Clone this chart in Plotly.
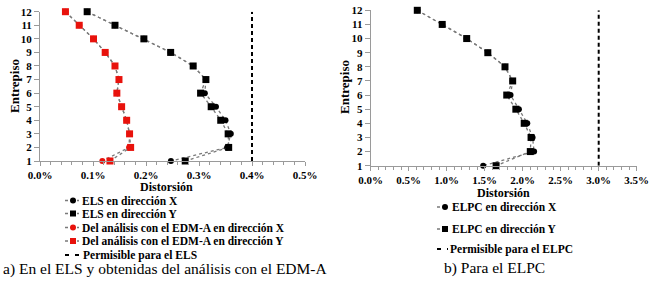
import plotly.graph_objects as go

W, H = 650, 281

# ---------------- data ----------------
floors = [12, 11, 10, 9, 8, 7, 6, 5, 4, 3, 2, 1]

els_x = [0.089, 0.1415, 0.196, 0.2465, 0.289, 0.313, 0.311, 0.332, 0.350, 0.360, 0.353, 0.247]
els_y = [0.089, 0.1415, 0.196, 0.2465, 0.289, 0.313, 0.303, 0.323, 0.341, 0.355, 0.356, 0.274]
edm_x = [0.048, 0.074, 0.101, 0.123, 0.1415, 0.149, 0.145, 0.154, 0.1635, 0.169, 0.168, 0.1176]
edm_y = [0.048, 0.074, 0.101, 0.123, 0.1415, 0.149, 0.145, 0.154, 0.1635, 0.169, 0.171, 0.132]
lim_els = 0.4

elpc_x = [0.613, 0.941, 1.263, 1.541, 1.767, 1.868, 1.84, 1.95, 2.06, 2.13, 2.15, 1.48]
elpc_y = [0.613, 0.941, 1.263, 1.541, 1.767, 1.868, 1.79, 1.91, 2.02, 2.11, 2.10, 1.65]
lim_elpc = 3.0

legend_a = ["ELS en dirección X", "ELS en dirección Y",
            "Del análisis con el EDM-A en dirección X",
            "Del análisis con el EDM-A en dirección Y",
            "Permisible para el ELS"]
legend_b = ["ELPC en dirección X", "ELPC en dirección Y", "Permisible para el ELPC"]
caption_a = "a) En el ELS y obtenidas del análisis con el EDM-A"
caption_b = "b) Para el ELPC"
x_title = "Distorsión"
y_title = "Entrepiso"

# ---------------- style ----------------
SERIF = "'Liberation Serif', 'Times New Roman', serif"
BOLD = dict(family=SERIF, size=11, color="black", weight="bold")
LEG = dict(BOLD, size=11.5)
BLACK = "#000000"
RED = "#e8120c"
DOT = dict(color="#7a7a7a", width=1.3, dash="dot")
AX = "#9a9a9a"


def px(x, y):
    return x / W, 1 - y / H


fig = go.Figure()


def series(xs, color, symbol, size, xa, ya):
    fig.add_trace(go.Scatter(
        x=xs, y=floors, mode="lines+markers", xaxis=xa, yaxis=ya,
        line=DOT, marker=dict(color=color, symbol=symbol, size=size, line=dict(width=0)),
        cliponaxis=False, showlegend=False, hoverinfo="skip"))


def limit(v, xa, ya):
    fig.add_trace(go.Scatter(
        x=[v, v], y=[min(floors), max(floors)], mode="lines", xaxis=xa, yaxis=ya,
        line=dict(color="black", width=2, dash="4px,3px"),
        cliponaxis=False, showlegend=False, hoverinfo="skip"))


# left panel
series(els_x, BLACK, "circle", 6, "x", "y")
series(els_y, BLACK, "square", 7, "x", "y")
series(edm_x, RED, "circle", 6, "x", "y")
series(edm_y, RED, "square", 7, "x", "y")
limit(lim_els, "x", "y")
# right panel
series(elpc_x, BLACK, "circle", 6, "x2", "y2")
series(elpc_y, BLACK, "square", 7, "x2", "y2")
limit(lim_elpc, "x2", "y2")

# ---------------- legend keys (overlay axis in pixel units) ----------------
def key(x0, x1, xm, y, color=None, symbol=None, dashed=False):
    if dashed:
        fig.add_trace(go.Scatter(x=[x0, x1], y=[y, y], mode="lines", xaxis="x3", yaxis="y3",
                                 line=dict(color="black", width=2, dash="4px,6px"),
                                 cliponaxis=False, showlegend=False, hoverinfo="skip"))
    else:
        fig.add_trace(go.Scatter(x=[x0, x1], y=[y, y], mode="lines", xaxis="x3", yaxis="y3",
                                 line=DOT, cliponaxis=False, showlegend=False, hoverinfo="skip"))
        fig.add_trace(go.Scatter(x=[xm], y=[y], mode="markers", xaxis="x3", yaxis="y3",
                                 marker=dict(color=color, symbol=symbol, size=6, line=dict(width=0)),
                                 cliponaxis=False, showlegend=False, hoverinfo="skip"))


rows_a = [200.5, 213.5, 227.5, 241, 255]
keys_a = [(BLACK, "circle"), (BLACK, "square"), (RED, "circle"), (RED, "square"), None]
annotations = []
for lbl, ry, k in zip(legend_a, rows_a, keys_a):
    if k is None:
        key(65, 80, 0, ry, dashed=True)
        tx = 81
    else:
        key(65, 79, 73, ry, k[0], k[1])
        tx = 79.5
    xx, yy = px(tx, ry)
    annotations.append(dict(x=xx, y=yy, xref="paper", yref="paper", text=lbl, showarrow=False,
                            xanchor="left", yanchor="middle", font=LEG))

rows_b = [207, 229, 249]
keys_b = [(BLACK, "circle"), (BLACK, "square"), None]
for lbl, ry, k in zip(legend_b, rows_b, keys_b):
    if k is None:
        key(437, 448, 0, ry, dashed=True)
        tx = 448
    else:
        key(437, 449, 445, ry, k[0], k[1])
        tx = 450
    xx, yy = px(tx, ry)
    annotations.append(dict(x=xx, y=yy, xref="paper", yref="paper", text=lbl, showarrow=False,
                            xanchor="left", yanchor="middle", font=LEG))

# titles & captions
for txt, (cx, cy), ang, fnt in [
    (x_title, (166, 187), 0, dict(BOLD, size=12)),
    (x_title, (503, 193), 0, dict(BOLD, size=12)),
    (y_title, (14, 86), -90, dict(BOLD, size=13)),
    (y_title, (344, 87), -90, dict(BOLD, size=13)),
    (caption_a, (165, 269), 0, dict(family=SERIF, size=15.5, color="black")),
    (caption_b, (494, 268), 0, dict(family=SERIF, size=15.5, color="black")),
]:
    xx, yy = px(cx, cy)
    annotations.append(dict(x=xx, y=yy, xref="paper", yref="paper", text=txt, showarrow=False,
                            xanchor="center", yanchor="middle", textangle=ang, font=fnt))


def xaxis(dom, rng, dtick, minor, anchor):
    return dict(domain=dom, range=rng, dtick=dtick, tick0=0, ticksuffix="%", tickformat=".1f",
                showline=True, linecolor=AX, linewidth=1, ticks="outside", ticklen=4,
                tickcolor=AX, showgrid=False, zeroline=False, tickfont=BOLD,
                minor=dict(dtick=minor, ticks="outside", ticklen=3, tickcolor=AX, showgrid=False),
                anchor=anchor, automargin=False, fixedrange=True)


def yaxis(dom, anchor):
    return dict(domain=dom, range=[1, 12], dtick=1, tick0=0, showline=True, linecolor=AX,
                linewidth=1, ticks="outside", ticklen=5, tickcolor=AX, showgrid=False,
                zeroline=False, tickfont=BOLD, anchor=anchor, automargin=False, fixedrange=True)


fig.update_layout(
    template="none",
    width=W, height=H, autosize=False,
    margin=dict(l=0, r=0, t=0, b=0, pad=0),
    paper_bgcolor="white", plot_bgcolor="rgba(0,0,0,0)",
    showlegend=False,
    xaxis=xaxis([40 / W, 305 / W], [0, 0.5], 0.1, 0.02, "y"),
    yaxis=yaxis([1 - 161 / H, 1 - 11.7 / H], "x"),
    xaxis2=xaxis([370.7 / W, 636.7 / W], [0, 3.5], 0.5, 0.1, "y2"),
    yaxis2=yaxis([1 - 165.7 / H, 1 - 10.3 / H], "x2"),
    xaxis3=dict(domain=[0, 1], range=[0, W], visible=False, anchor="y3", fixedrange=True,
                automargin=False),
    yaxis3=dict(domain=[0, 1], range=[H, 0], visible=False, anchor="x3", fixedrange=True,
                automargin=False),
    annotations=annotations,
)

fig.write_html("out.html", config={"displayModeBar": False},
               post_script="document.body.style.margin='0';document.body.style.overflow='hidden';")
